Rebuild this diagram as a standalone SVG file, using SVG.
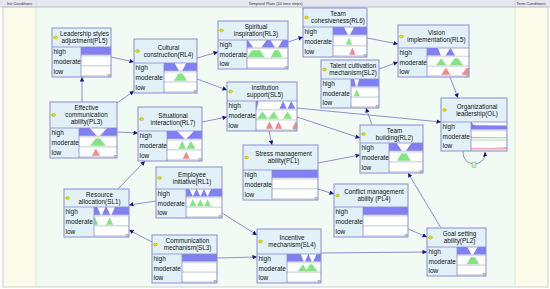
<svg xmlns="http://www.w3.org/2000/svg" xmlns:xlink="http://www.w3.org/1999/xlink" width="550" height="289" viewBox="0 0 550 289">
<style>
.nf{fill:#e2f1f7}
.no{fill:none;stroke:#8c8cd0;stroke-width:1}
.ln{stroke:#8c8cd0;stroke-width:0.8}
.cb{fill:#fff}
.band{fill:#d9e0e2}
.b{fill:#8080f2}
.w{fill:#fff}
.g{fill:#84e484}
.r{fill:#f28a8a}
.t{font-family:"Liberation Sans",Arial,sans-serif;font-size:6.3px;fill:#111;text-anchor:middle}
.s{font-family:"Liberation Sans",Arial,sans-serif;font-size:6.5px;fill:#111}
.dot{fill:#e8e000;stroke:#9a9a00;stroke-width:0.4}
.hd{fill:#c4c4c4;stroke:#8a8a8a;stroke-width:0.3}
.edge{fill:none;stroke:#7373c4;stroke-width:0.8;marker-end:url(#a)}
.bar{font-family:"Liberation Sans",Arial,sans-serif;font-size:4px;fill:#333}
</style>
<defs>
<marker id="a" viewBox="0 0 10 10" refX="10" refY="5" markerWidth="4.5" markerHeight="4.5" orient="auto" markerUnits="userSpaceOnUse"><path d="M0,0 L10,5 L0,10 z" fill="#14148a"/></marker>
<rect id="bd" y="7.9" width="100" height="1.7" class="band"/>
<rect id="fb" width="100" height="7.8" class="b"/>
</defs>

<!-- background -->
<rect width="550" height="289" fill="#ffffff"/>
<rect x="3" y="7" width="33" height="280" fill="#fbfbea"/>
<rect x="36" y="7" width="479" height="280" fill="#f2fbf3"/>
<rect x="515" y="7" width="33" height="280" fill="#fbfbea"/>
<rect x="0" y="0" width="550" height="7" fill="#e6e6f0"/>
<line x1="0" y1="7" x2="550" y2="7" stroke="#c0c0cc" stroke-width="0.6"/>
<line x1="36" y1="0" x2="36" y2="287" stroke="#cfcfcf" stroke-width="0.5"/>
<line x1="515" y1="0" x2="515" y2="287" stroke="#cfcfcf" stroke-width="0.5"/>
<rect x="3" y="7" width="545" height="280" fill="none" stroke="#c4c4c4" stroke-width="0.8"/>
<text class="bar" x="7" y="5">Init Conditions</text>
<text class="bar" x="275.5" y="5" text-anchor="middle">Temporal Plate (10 time steps)</text>
<text class="bar" x="516.5" y="5">Term Conditions</text>

<!-- connectors -->
<g id="connectors">
<line class="edge" x1="111" y1="57" x2="134" y2="62"/>
<line class="edge" x1="82" y1="102" x2="82" y2="77"/>
<line class="edge" x1="117" y1="103" x2="134" y2="91"/>
<line class="edge" x1="197" y1="58" x2="218" y2="52"/>
<line class="edge" x1="197" y1="79" x2="227" y2="90"/>
<line class="edge" x1="288" y1="42" x2="303" y2="37"/>
<line class="edge" x1="367" y1="38" x2="398" y2="44"/>
<line class="edge" x1="379" y1="69" x2="398" y2="62"/>
<line class="edge" x1="450" y1="77" x2="458" y2="98"/>
<line class="edge" x1="297" y1="108" x2="441" y2="122"/>
<line class="edge" x1="297" y1="117" x2="360" y2="138"/>
<line class="edge" x1="269" y1="131" x2="272" y2="145"/>
<line class="edge" x1="202" y1="122" x2="227" y2="117"/>
<line class="edge" x1="117" y1="132" x2="138" y2="133"/>
<line class="edge" x1="118" y1="189" x2="145" y2="161"/>
<line class="edge" x1="156" y1="201" x2="129" y2="205"/>
<line class="edge" x1="222" y1="213" x2="257" y2="235"/>
<line class="edge" x1="152" y1="242" x2="129" y2="230"/>
<line class="edge" x1="217" y1="258" x2="257" y2="257"/>
<line class="edge" x1="321" y1="253" x2="427" y2="252"/>
<line class="edge" x1="408" y1="229" x2="427" y2="237"/>
<line class="edge" x1="318" y1="189" x2="334" y2="194"/>
<line class="edge" x1="318" y1="163" x2="360" y2="155"/>
<line class="edge" x1="441" y1="228" x2="408" y2="173"/>
<line class="edge" x1="372" y1="125" x2="366" y2="108"/>
<path class="edge" d="M463,151 C462,168 486,168 485,152"/>
<rect x="472" y="162" width="4" height="5.5" fill="#c8eec8" stroke="#7fb07f" stroke-width="0.5"/>
</g>

<!-- PL5 -->
<g id="PL5">
<rect class="nf" x="52" y="28" width="59" height="49"/>
<rect class="cb" x="81" y="47" width="30" height="30"/>
<g transform="translate(81,47) scale(0.30,1)"><use href="#bd"/><use href="#fb"/></g>
<g transform="translate(81,57) scale(0.30,1)"><use href="#bd"/></g>
<g transform="translate(81,67) scale(0.30,1)"><use href="#bd"/></g>
<line class="ln" x1="52" y1="47" x2="111" y2="47"/><line class="ln" x1="81" y1="47" x2="81" y2="77"/>
<rect class="hd" x="108" y="74.2" width="2.4" height="2.4"/>
<rect class="no" x="52" y="28" width="59" height="49"/>
<ellipse class="dot" cx="55.5" cy="37.5" rx="2" ry="1.4"/>
<text class="t" x="84.5" y="36.3">Leadership styles</text>
<text class="t" x="84.5" y="43.3">adjustment(PL5)</text>
<text class="s" x="53.5" y="54.2">high</text><text class="s" x="53.5" y="64.2">moderate</text><text class="s" x="53.5" y="74.2">low</text>
</g>

<!-- RL4 -->
<g id="RL4">
<rect class="nf" x="134" y="39" width="63" height="54"/>
<rect class="cb" x="164" y="63" width="33" height="30"/>
<g transform="translate(164,63) scale(0.33,1)"><use href="#bd"/><use href="#fb"/><polygon class="w" points="32,0 68,0 55,7.8 45,7.8"/></g>
<g transform="translate(164,73) scale(0.33,1)"><use href="#bd"/><polygon class="g" points="30,7.8 70,7.8 56,0.5 44,0.5"/></g>
<g transform="translate(164,83) scale(0.33,1)"><use href="#bd"/></g>
<line class="ln" x1="134" y1="63" x2="197" y2="63"/><line class="ln" x1="164" y1="63" x2="164" y2="93"/>
<rect class="hd" x="194" y="90.2" width="2.4" height="2.4"/>
<rect class="no" x="134" y="39" width="63" height="54"/>
<ellipse class="dot" cx="137.5" cy="51" rx="2" ry="1.4"/>
<text class="t" x="168.5" y="49.8">Cultural</text>
<text class="t" x="168.5" y="56.8">construction(RL4)</text>
<text class="s" x="135.5" y="70.2">high</text><text class="s" x="135.5" y="80.2">moderate</text><text class="s" x="135.5" y="90.2">low</text>
</g>

<!-- RL3 -->
<g id="RL3">
<rect class="nf" x="218" y="21" width="70" height="48"/>
<rect class="cb" x="247" y="40" width="41" height="29"/>
<g transform="translate(247,40) scale(0.41,0.9667)"><use href="#bd"/><use href="#fb"/><polygon class="w" points="2,0 48,0 35,7.8 15,7.8"/><polygon class="w" points="57,0 87,0 76,7.8 68,7.8"/></g>
<g transform="translate(247,49.67) scale(0.41,0.9667)"><use href="#bd"/><polygon class="g" points="1,7.8 43,7.8 32,0.5 12,0.5"/><polygon class="g" points="58,7.8 86,7.8 77,0.5 67,0.5"/></g>
<g transform="translate(247,59.33) scale(0.41,0.9667)"><use href="#bd"/></g>
<line class="ln" x1="218" y1="40" x2="288" y2="40"/><line class="ln" x1="247" y1="40" x2="247" y2="69"/>
<rect class="hd" x="285" y="66.2" width="2.4" height="2.4"/>
<rect class="no" x="218" y="21" width="70" height="48"/>
<ellipse class="dot" cx="221.5" cy="30.5" rx="2" ry="1.4"/>
<text class="t" x="256" y="29.3">Spiritual</text>
<text class="t" x="256" y="36.3">inspiration(RL3)</text>
<text class="s" x="219.5" y="47">high</text><text class="s" x="219.5" y="56.7">moderate</text><text class="s" x="219.5" y="66.3">low</text>
</g>

<!-- RL6 -->
<g id="RL6">
<rect class="nf" x="303" y="8" width="64" height="49"/>
<rect class="cb" x="333" y="27" width="34" height="30"/>
<g transform="translate(333,27) scale(0.34,1)"><use href="#bd"/><use href="#fb"/><polygon class="w" points="32,0 62,0 50,7.8 44,7.8"/></g>
<g transform="translate(333,37) scale(0.34,1)"><use href="#bd"/><polygon class="g" points="38,7.8 56,7.8 47,0.5"/></g>
<g transform="translate(333,47) scale(0.34,1)"><use href="#bd"/><polygon class="r" points="48,7.8 66,7.8 57,0.5"/></g>
<line class="ln" x1="303" y1="27" x2="367" y2="27"/><line class="ln" x1="333" y1="27" x2="333" y2="57"/>
<rect class="hd" x="364" y="54.2" width="2.4" height="2.4"/>
<rect class="no" x="303" y="8" width="64" height="49"/>
<ellipse class="dot" cx="306.5" cy="17.5" rx="2" ry="1.4"/>
<text class="t" x="338" y="16.3">Team</text>
<text class="t" x="338" y="23.3">cohesiveness(RL6)</text>
<text class="s" x="304.5" y="34.2">high</text><text class="s" x="304.5" y="44.2">moderate</text><text class="s" x="304.5" y="54.2">low</text>
</g>

<!-- RL5 -->
<g id="RL5">
<rect class="nf" x="398" y="25" width="71" height="52"/>
<rect class="cb" x="427" y="48" width="42" height="29"/>
<g transform="translate(427,48) scale(0.42,0.9667)"><use href="#bd"/><polygon class="b" points="0,0 26,0 33,7.8 0,7.8"/><polygon class="b" points="44,7.8 67,7.8 56,0"/></g>
<g transform="translate(427,57.67) scale(0.42,0.9667)"><use href="#bd"/><polygon class="g" points="22,7.8 46,7.8 34,0.5"/><polygon class="g" points="54,7.8 86,7.8 74,0.5 66,0.5"/></g>
<g transform="translate(427,67.33) scale(0.42,0.9667)"><use href="#bd"/><polygon class="r" points="34,7.8 56,7.8 45,0.5"/><polygon class="r" points="82,7.8 100,7.8 100,1 95,0.5"/></g>
<line class="ln" x1="398" y1="48" x2="469" y2="48"/><line class="ln" x1="427" y1="48" x2="427" y2="77"/>
<rect class="hd" x="466" y="74.2" width="2.4" height="2.4"/>
<rect class="no" x="398" y="25" width="71" height="52"/>
<ellipse class="dot" cx="401.5" cy="36.5" rx="2" ry="1.4"/>
<text class="t" x="436.5" y="35.3">Vision</text>
<text class="t" x="436.5" y="42.3">implementation(RL5)</text>
<text class="s" x="399.5" y="55">high</text><text class="s" x="399.5" y="64.7">moderate</text><text class="s" x="399.5" y="74.3">low</text>
</g>

<!-- SL2 -->
<g id="SL2">
<rect class="nf" x="321" y="60" width="58" height="48"/>
<rect class="cb" x="351" y="79" width="28" height="29"/>
<g transform="translate(351,79) scale(0.28,0.9667)"><use href="#bd"/><use href="#fb"/><polygon class="w" points="11,0 29,0 22,7.8 18,7.8"/></g>
<g transform="translate(351,88.67) scale(0.28,0.9667)"><use href="#bd"/><polygon class="g" points="10,7.8 32,7.8 21,0.5"/></g>
<g transform="translate(351,98.33) scale(0.28,0.9667)"><use href="#bd"/></g>
<line class="ln" x1="321" y1="79" x2="379" y2="79"/><line class="ln" x1="351" y1="79" x2="351" y2="108"/>
<rect class="hd" x="376" y="105.2" width="2.4" height="2.4"/>
<rect class="no" x="321" y="60" width="58" height="48"/>
<ellipse class="dot" cx="324.5" cy="69.5" rx="2" ry="1.4"/>
<text class="t" x="353" y="68.3">Talent cultivation</text>
<text class="t" x="353" y="75.3">mechanism(SL2)</text>
<text class="s" x="322.5" y="86">high</text><text class="s" x="322.5" y="95.7">moderate</text><text class="s" x="322.5" y="105.3">low</text>
</g>

<!-- SL5 -->
<g id="SL5">
<rect class="nf" x="227" y="82" width="70" height="49"/>
<rect class="cb" x="256" y="101" width="41" height="30"/>
<g transform="translate(256,101) scale(0.41,1)"><use href="#bd"/><polygon class="b" points="0,0 6,0 2,7.8 0,7.8"/><polygon class="b" points="57,7.8 75,7.8 66,0"/><polygon class="b" points="77,7.8 96,7.8 86,0"/></g>
<g transform="translate(256,111) scale(0.41,1)"><use href="#bd"/><polygon class="g" points="3,7.8 29,7.8 16,0.5"/><polygon class="g" points="30,7.8 55,7.8 43,0.5"/><polygon class="g" points="66,7.8 88,7.8 77,0.5"/></g>
<g transform="translate(256,121) scale(0.41,1)"><use href="#bd"/><polygon class="r" points="24,7.8 42,7.8 33,0.5"/><polygon class="r" points="46,7.8 64,7.8 55,0.5"/><polygon class="r" points="88,7.8 100,7.8 100,2 97,0.5"/></g>
<line class="ln" x1="227" y1="101" x2="297" y2="101"/><line class="ln" x1="256" y1="101" x2="256" y2="131"/>
<rect class="hd" x="294" y="128.2" width="2.4" height="2.4"/>
<rect class="no" x="227" y="82" width="70" height="49"/>
<ellipse class="dot" cx="230.5" cy="91.5" rx="2" ry="1.4"/>
<text class="t" x="265" y="90.3">Institution</text>
<text class="t" x="265" y="97.3">support(SL5)</text>
<text class="s" x="228.5" y="108.2">high</text><text class="s" x="228.5" y="118.2">moderate</text><text class="s" x="228.5" y="128.2">low</text>
</g>

<!-- PL3 -->
<g id="PL3">
<rect class="nf" x="50" y="102" width="67" height="56"/>
<rect class="cb" x="79" y="128" width="38" height="30"/>
<g transform="translate(79,128) scale(0.38,1)"><use href="#bd"/><use href="#fb"/><polygon class="w" points="28,0 74,0 55.5,7.8 46.5,7.8"/></g>
<g transform="translate(79,138) scale(0.38,1)"><use href="#bd"/><polygon class="g" points="30,7.8 70,7.8 56,0.5 44,0.5"/></g>
<g transform="translate(79,148) scale(0.38,1)"><use href="#bd"/><polygon class="r" points="34,7.8 55,7.8 44.5,0.5"/></g>
<line class="ln" x1="50" y1="128" x2="117" y2="128"/><line class="ln" x1="79" y1="128" x2="79" y2="158"/>
<rect class="hd" x="114" y="155.2" width="2.4" height="2.4"/>
<rect class="no" x="50" y="102" width="67" height="56"/>
<ellipse class="dot" cx="53.5" cy="115" rx="2" ry="1.4"/>
<text class="t" x="86.5" y="110">Effective</text>
<text class="t" x="86.5" y="117">communication</text>
<text class="t" x="86.5" y="124">ability(PL3)</text>
<text class="s" x="51.5" y="135.2">high</text><text class="s" x="51.5" y="145.2">moderate</text><text class="s" x="51.5" y="155.2">low</text>
</g>

<!-- RL7 -->
<g id="RL7">
<rect class="nf" x="138" y="107" width="64" height="54"/>
<rect class="cb" x="167" y="131" width="35" height="30"/>
<g transform="translate(167,131) scale(0.35,1)"><use href="#bd"/><use href="#fb"/><polygon class="w" points="29,0 77,0 56,7.8 50,7.8"/></g>
<g transform="translate(167,141) scale(0.35,1)"><use href="#bd"/><polygon class="g" points="33,7.8 54,7.8 45,0.5 42,0.5"/><polygon class="g" points="56,7.8 81,7.8 70,0.5 67,0.5"/></g>
<g transform="translate(167,151) scale(0.35,1)"><use href="#bd"/><polygon class="r" points="45,7.8 65,7.8 55,0.5"/></g>
<line class="ln" x1="138" y1="131" x2="202" y2="131"/><line class="ln" x1="167" y1="131" x2="167" y2="161"/>
<rect class="hd" x="199" y="158.2" width="2.4" height="2.4"/>
<rect class="no" x="138" y="107" width="64" height="54"/>
<ellipse class="dot" cx="141.5" cy="119" rx="2" ry="1.4"/>
<text class="t" x="173" y="117.8">Situational</text>
<text class="t" x="173" y="124.8">interaction(RL7)</text>
<text class="s" x="139.5" y="138.2">high</text><text class="s" x="139.5" y="148.2">moderate</text><text class="s" x="139.5" y="158.2">low</text>
</g>

<!-- RL1 -->
<g id="RL1">
<rect class="nf" x="156" y="167" width="66" height="51"/>
<rect class="cb" x="186" y="189" width="36" height="29"/>
<g transform="translate(186,189) scale(0.36,0.9667)"><use href="#bd"/><use href="#fb"/><polygon class="w" points="9,0 29,0 19,7.8"/><polygon class="w" points="30,0 50,0 40,7.8"/><polygon class="w" points="50,0 70,0 60,7.8"/></g>
<g transform="translate(186,198.67) scale(0.36,0.9667)"><use href="#bd"/><polygon class="g" points="10,7.8 29,7.8 19,0.5"/><polygon class="g" points="31,7.8 49,7.8 40,0.5"/><polygon class="g" points="51,7.8 69,7.8 60,0.5"/></g>
<g transform="translate(186,208.33) scale(0.36,0.9667)"><use href="#bd"/></g>
<line class="ln" x1="156" y1="189" x2="222" y2="189"/><line class="ln" x1="186" y1="189" x2="186" y2="218"/>
<rect class="hd" x="219" y="215.2" width="2.4" height="2.4"/>
<rect class="no" x="156" y="167" width="66" height="51"/>
<ellipse class="dot" cx="159.5" cy="178" rx="2" ry="1.4"/>
<text class="t" x="192" y="176.8">Employee</text>
<text class="t" x="192" y="183.8">initiative(RL1)</text>
<text class="s" x="157.5" y="196">high</text><text class="s" x="157.5" y="205.7">moderate</text><text class="s" x="157.5" y="215.3">low</text>
</g>

<!-- PL1 -->
<g id="PL1">
<rect class="nf" x="243" y="145" width="75" height="55"/>
<rect class="cb" x="272" y="170" width="46" height="30"/>
<g transform="translate(272,170) scale(0.46,1)"><use href="#bd"/><use href="#fb"/></g>
<g transform="translate(272,180) scale(0.46,1)"><use href="#bd"/></g>
<g transform="translate(272,190) scale(0.46,1)"><use href="#bd"/></g>
<line class="ln" x1="243" y1="170" x2="318" y2="170"/><line class="ln" x1="272" y1="170" x2="272" y2="200"/>
<rect class="hd" x="315" y="197.2" width="2.4" height="2.4"/>
<rect class="no" x="243" y="145" width="75" height="55"/>
<ellipse class="dot" cx="246.5" cy="157.5" rx="2" ry="1.4"/>
<text class="t" x="283.5" y="156.3">Stress management</text>
<text class="t" x="283.5" y="163.3">ability(PL1)</text>
<text class="s" x="244.5" y="177.2">high</text><text class="s" x="244.5" y="187.2">moderate</text><text class="s" x="244.5" y="197.2">low</text>
</g>

<!-- RL2 -->
<g id="RL2">
<rect class="nf" x="360" y="125" width="63" height="48"/>
<rect class="cb" x="389" y="143" width="34" height="30"/>
<g transform="translate(389,143) scale(0.34,1)"><use href="#bd"/><use href="#fb"/><polygon class="w" points="22,0 66,0 50,7.8 38,7.8"/></g>
<g transform="translate(389,153) scale(0.34,1)"><use href="#bd"/><polygon class="g" points="24,7.8 64,7.8 52,0.5 36,0.5"/></g>
<g transform="translate(389,163) scale(0.34,1)"><use href="#bd"/></g>
<line class="ln" x1="360" y1="143" x2="423" y2="143"/><line class="ln" x1="389" y1="143" x2="389" y2="173"/>
<rect class="hd" x="420" y="170.2" width="2.4" height="2.4"/>
<rect class="no" x="360" y="125" width="63" height="48"/>
<ellipse class="dot" cx="363.5" cy="134" rx="2" ry="1.4"/>
<text class="t" x="394.5" y="132.8">Team</text>
<text class="t" x="394.5" y="139.8">building(RL2)</text>
<text class="s" x="361.5" y="150.2">high</text><text class="s" x="361.5" y="160.2">moderate</text><text class="s" x="361.5" y="170.2">low</text>
</g>

<!-- OL -->
<g id="OL">
<rect class="nf" x="441" y="98" width="66" height="53"/>
<rect class="cb" x="471" y="122" width="36" height="29"/>
<g transform="translate(471,122) scale(0.36,0.9667)"><use href="#bd"/><polygon class="b" points="0,0 2,0 6,2.8 15,3.3 100,3.5 100,7.8 0,7.8"/></g>
<g transform="translate(471,131.67) scale(0.36,0.9667)"><use href="#bd"/><polygon class="g" points="0,4 4,5.6 100,5.8 100,6.8 0,6.8"/></g>
<g transform="translate(471,141.33) scale(0.36,0.9667)"><use href="#bd"/><polygon class="r" points="0,7 60,7 100,6.2 100,7.8 0,7.8"/></g>
<line class="ln" x1="441" y1="122" x2="507" y2="122"/><line class="ln" x1="471" y1="122" x2="471" y2="151"/>
<rect class="no" x="441" y="98" width="66" height="53"/>
<ellipse class="dot" cx="444.5" cy="110" rx="2" ry="1.4"/>
<text class="t" x="477" y="108.8">Organizational</text>
<text class="t" x="477" y="115.8">leadership(OL)</text>
<text class="s" x="442.5" y="129">high</text><text class="s" x="442.5" y="138.7">moderate</text><text class="s" x="442.5" y="148.3">low</text>
</g>

<!-- SL1 -->
<g id="SL1">
<rect class="nf" x="64" y="189" width="65" height="48"/>
<rect class="cb" x="94" y="207" width="35" height="30"/>
<g transform="translate(94,207) scale(0.35,1)"><use href="#bd"/><use href="#fb"/><polygon class="w" points="9,0 33,0 23,7.8 19,7.8"/><polygon class="w" points="36,0 60,0 50,7.8 46,7.8"/></g>
<g transform="translate(94,217) scale(0.35,1)"><use href="#bd"/><polygon class="g" points="0,7.8 12,7.8 3,0.5 0,0.5"/><polygon class="g" points="34,7.8 55,7.8 45,0.5"/></g>
<g transform="translate(94,227) scale(0.35,1)"><use href="#bd"/></g>
<line class="ln" x1="64" y1="207" x2="129" y2="207"/><line class="ln" x1="94" y1="207" x2="94" y2="237"/>
<rect class="hd" x="126" y="234.2" width="2.4" height="2.4"/>
<rect class="no" x="64" y="189" width="65" height="48"/>
<ellipse class="dot" cx="67.5" cy="198" rx="2" ry="1.4"/>
<text class="t" x="99.5" y="196.8">Resource</text>
<text class="t" x="99.5" y="203.8">allocation(SL1)</text>
<text class="s" x="65.5" y="214.2">high</text><text class="s" x="65.5" y="224.2">moderate</text><text class="s" x="65.5" y="234.2">low</text>
</g>

<!-- SL3 -->
<g id="SL3">
<rect class="nf" x="152" y="235" width="65" height="48"/>
<rect class="cb" x="182" y="254" width="35" height="29"/>
<g transform="translate(182,254) scale(0.35,0.9667)"><use href="#bd"/><use href="#fb"/></g>
<g transform="translate(182,263.67) scale(0.35,0.9667)"><use href="#bd"/></g>
<g transform="translate(182,273.33) scale(0.35,0.9667)"><use href="#bd"/></g>
<line class="ln" x1="152" y1="254" x2="217" y2="254"/><line class="ln" x1="182" y1="254" x2="182" y2="283"/>
<rect class="hd" x="214" y="280.2" width="2.4" height="2.4"/>
<rect class="no" x="152" y="235" width="65" height="48"/>
<ellipse class="dot" cx="155.5" cy="244.5" rx="2" ry="1.4"/>
<text class="t" x="187.5" y="243.3">Communication</text>
<text class="t" x="187.5" y="250.3">mechanism(SL3)</text>
<text class="s" x="153.5" y="261">high</text><text class="s" x="153.5" y="270.7">moderate</text><text class="s" x="153.5" y="280.3">low</text>
</g>

<!-- SL4 -->
<g id="SL4">
<rect class="nf" x="257" y="229" width="64" height="54"/>
<rect class="cb" x="287" y="254" width="34" height="29"/>
<g transform="translate(287,254) scale(0.34,0.9667)"><use href="#bd"/><use href="#fb"/><polygon class="w" points="40,0 62,0 53,7.8 49,7.8"/><polygon class="w" points="63,0 87,0 77,7.8 73,7.8"/></g>
<g transform="translate(287,263.67) scale(0.34,0.9667)"><use href="#bd"/><polygon class="g" points="32,7.8 60,7.8 47,0.5"/><polygon class="g" points="55,7.8 90,7.8 74,0.5 68,0.5"/></g>
<g transform="translate(287,273.33) scale(0.34,0.9667)"><use href="#bd"/></g>
<line class="ln" x1="257" y1="254" x2="321" y2="254"/><line class="ln" x1="287" y1="254" x2="287" y2="283"/>
<rect class="hd" x="318" y="280.2" width="2.4" height="2.4"/>
<rect class="no" x="257" y="229" width="64" height="54"/>
<ellipse class="dot" cx="260.5" cy="241.5" rx="2" ry="1.4"/>
<text class="t" x="292" y="240.3">Incentive</text>
<text class="t" x="292" y="247.3">mechanism(SL4)</text>
<text class="s" x="258.5" y="261">high</text><text class="s" x="258.5" y="270.7">moderate</text><text class="s" x="258.5" y="280.3">low</text>
</g>

<!-- PL4 -->
<g id="PL4">
<rect class="nf" x="334" y="184" width="74" height="53"/>
<rect class="cb" x="363" y="207" width="45" height="30"/>
<g transform="translate(363,207) scale(0.45,1)"><use href="#bd"/><use href="#fb"/></g>
<g transform="translate(363,217) scale(0.45,1)"><use href="#bd"/></g>
<g transform="translate(363,227) scale(0.45,1)"><use href="#bd"/></g>
<line class="ln" x1="334" y1="207" x2="408" y2="207"/><line class="ln" x1="363" y1="207" x2="363" y2="237"/>
<rect class="hd" x="405" y="234.2" width="2.4" height="2.4"/>
<rect class="no" x="334" y="184" width="74" height="53"/>
<ellipse class="dot" cx="337.5" cy="195.5" rx="2" ry="1.4"/>
<text class="t" x="374" y="194.3">Conflict management</text>
<text class="t" x="374" y="201.3">ability (PL4)</text>
<text class="s" x="335.5" y="214.2">high</text><text class="s" x="335.5" y="224.2">moderate</text><text class="s" x="335.5" y="234.2">low</text>
</g>

<!-- PL2 -->
<g id="PL2">
<rect class="nf" x="427" y="228" width="59" height="48"/>
<rect class="cb" x="457" y="247" width="29" height="29"/>
<g transform="translate(457,247) scale(0.29,0.9667)"><use href="#bd"/><use href="#fb"/><polygon class="w" points="35,0 71,0 56,7.8 50,7.8"/></g>
<g transform="translate(457,256.67) scale(0.29,0.9667)"><use href="#bd"/><polygon class="g" points="34,7.8 76,7.8 63,0.5 47,0.5"/></g>
<g transform="translate(457,266.33) scale(0.29,0.9667)"><use href="#bd"/></g>
<line class="ln" x1="427" y1="247" x2="486" y2="247"/><line class="ln" x1="457" y1="247" x2="457" y2="276"/>
<rect class="hd" x="483" y="273.2" width="2.4" height="2.4"/>
<rect class="no" x="427" y="228" width="59" height="48"/>
<ellipse class="dot" cx="430.5" cy="237.5" rx="2" ry="1.4"/>
<text class="t" x="459.5" y="236.3">Goal setting</text>
<text class="t" x="459.5" y="243.3">ability(PL2)</text>
<text class="s" x="428.5" y="254">high</text><text class="s" x="428.5" y="263.7">moderate</text><text class="s" x="428.5" y="273.3">low</text>
</g>
</svg>
